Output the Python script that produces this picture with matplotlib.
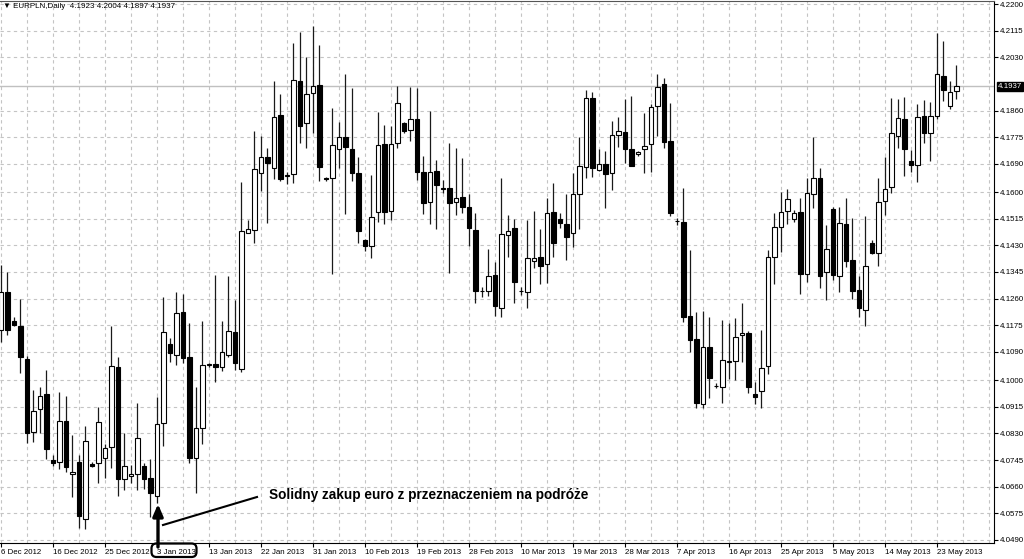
import numpy as np
from matplotlib import pyplot as plt
from matplotlib.patches import FancyBboxPatch
from matplotlib.lines import Line2D

# EURPLN daily candles, 6 Dec 2012 .. 27 May 2013 (Sunday bars included)
opens = [4.1160, 4.1282, 4.1189, 4.1173, 4.1068, 4.0835, 4.0908, 4.0956, 4.0746, 4.0739,
         4.0870, 4.0701, 4.0739, 4.0557, 4.0733, 4.0736, 4.0752, 4.0787, 4.1042, 4.0685,
         4.0695, 4.0701, 4.0727, 4.0688, 4.0631, 4.0864, 4.1116, 4.1081, 4.1218, 4.1074,
         4.0752, 4.0848, 4.1049, 4.1052, 4.1042, 4.1081, 4.1154, 4.1036, 4.1470, 4.1479,
         4.1661, 4.1712, 4.1677, 4.1846, 4.1652, 4.1658, 4.1955, 4.1821, 4.1916, 4.1942,
         4.1645, 4.1645, 4.1738, 4.1776, 4.1738, 4.1661, 4.1447, 4.1428, 4.1537, 4.1754,
         4.1540, 4.1757, 4.1821, 4.1798, 4.1833, 4.1664, 4.1569, 4.1667, 4.1613, 4.1613,
         4.1569, 4.1585, 4.1553, 4.1479, 4.1285, 4.1285, 4.1336, 4.1231, 4.1463, 4.1486,
         4.1285, 4.1282, 4.1380, 4.1393, 4.1371, 4.1537, 4.1514, 4.1498, 4.1470, 4.1594,
         4.1680, 4.1900, 4.1671, 4.1690, 4.1661, 4.1782, 4.1792, 4.1738, 4.1722, 4.1738,
         4.1754, 4.1875, 4.1945, 4.1763, 4.1508, 4.1505, 4.1205, 4.1132, 4.0924, 4.1106,
         4.0982, 4.0979, 4.1058, 4.1061, 4.1144, 4.1151, 4.0956, 4.0966, 4.1045, 4.1393,
         4.1489, 4.1540, 4.1514, 4.1537, 4.1339, 4.1594, 4.1645, 4.1345, 4.1546, 4.1333,
         4.1498, 4.1384, 4.1288, 4.1224, 4.1438, 4.1406, 4.1572, 4.1617, 4.1779, 4.1833,
         4.1699, 4.1687, 4.1843, 4.1789, 4.1843, 4.1971, 4.1875, 4.1923]
highs = [4.1368, 4.1345, 4.1202, 4.1259, 4.1077, 4.0969, 4.0979, 4.1033, 4.0762, 4.0963,
         4.0950, 4.0825, 4.0762, 4.0854, 4.0739, 4.0915, 4.0797, 4.1173, 4.1074, 4.0832,
         4.0730, 4.0927, 4.0736, 4.0749, 4.0947, 4.1266, 4.1135, 4.1282, 4.1275, 4.1183,
         4.0979, 4.1189, 4.1055, 4.1336, 4.1189, 4.1333, 4.1256, 4.1632, 4.1511, 4.1795,
         4.1779, 4.1741, 4.1955, 4.1913, 4.1664, 4.2076, 4.2111, 4.2031, 4.2130, 4.2069,
         4.1648, 4.1868, 4.1824, 4.1977, 4.1932, 4.1712, 4.1451, 4.1655, 4.1856, 4.1814,
         4.1811, 4.1939, 4.1824, 4.1935, 4.1932, 4.1715, 4.1859, 4.1703, 4.1639, 4.1757,
         4.1741, 4.1709, 4.1594, 4.1534, 4.1297, 4.1419, 4.1377, 4.1645, 4.1527, 4.1514,
         4.1297, 4.1511, 4.1540, 4.1483, 4.1581, 4.1629, 4.1534, 4.1594, 4.1661, 4.1776,
         4.1926, 4.1920, 4.1738, 4.1731, 4.1827, 4.1840, 4.1897, 4.1907, 4.1730, 4.1853,
         4.1881, 4.1977, 4.1964, 4.1884, 4.1518, 4.1613, 4.1416, 4.1218, 4.1221, 4.1202,
         4.0991, 4.1192, 4.1183, 4.1199, 4.1246, 4.1157, 4.0994, 4.1160, 4.1416, 4.1534,
         4.1601, 4.1610, 4.1543, 4.1581, 4.1645, 4.1776, 4.1677, 4.1495, 4.1553, 4.1553,
         4.1581, 4.1518, 4.1333, 4.1524, 4.1447, 4.1645, 4.1712, 4.1900, 4.1897, 4.1904,
         4.1735, 4.1881, 4.1894, 4.1888, 4.2108, 4.2082, 4.1955, 4.2004]
lows = [4.1122, 4.1144, 4.1173, 4.1023, 4.0800, 4.0803, 4.0832, 4.0749, 4.0727, 4.0717,
        4.0707, 4.0628, 4.0529, 4.0526, 4.0723, 4.0672, 4.0688, 4.0720, 4.0631, 4.0650,
        4.0672, 4.0650, 4.0653, 4.0564, 4.0608, 4.0790, 4.1058, 4.1049, 4.1055, 4.0736,
        4.0640, 4.0797, 4.1042, 4.0994, 4.1030, 4.1074, 4.1033, 4.1026, 4.1468, 4.1438,
        4.1604, 4.1502, 4.1642, 4.1636, 4.1626, 4.1629, 4.1757, 4.1741, 4.1789, 4.1636,
        4.1636, 4.1339, 4.1677, 4.1530, 4.1636, 4.1438, 4.1412, 4.1390, 4.1505, 4.1498,
        4.1511, 4.1741, 4.1789, 4.1763, 4.1639, 4.1530, 4.1498, 4.1483, 4.1597, 4.1342,
        4.1527, 4.1534, 4.1428, 4.1246, 4.1266, 4.1269, 4.1205, 4.1202, 4.1393, 4.1246,
        4.1272, 4.1231, 4.1358, 4.1307, 4.1310, 4.1393, 4.1486, 4.1384, 4.1425, 4.1483,
        4.1645, 4.1648, 4.1667, 4.1550, 4.1607, 4.1744, 4.1693, 4.1682, 4.1715, 4.1661,
        4.1664, 4.1779, 4.1741, 4.1524, 4.1495, 4.1186, 4.1090, 4.0911, 4.0911, 4.0943,
        4.0975, 4.0927, 4.1004, 4.1001, 4.1058, 4.0959, 4.0924, 4.0911, 4.1020, 4.1307,
        4.1409, 4.1498, 4.1505, 4.1275, 4.1313, 4.1550, 4.1294, 4.1256, 4.1320, 4.1282,
        4.1361, 4.1259, 4.1202, 4.1173, 4.1403, 4.1365, 4.1527, 4.1597, 4.1741, 4.1652,
        4.1664, 4.1632, 4.1757, 4.1699, 4.1833, 4.1891, 4.1865, 4.1897]
closes = [4.1282, 4.1160, 4.1176, 4.1074, 4.0832, 4.0902, 4.0950, 4.0781, 4.0736, 4.0870,
          4.0723, 4.0707, 4.0567, 4.0806, 4.0727, 4.0867, 4.0784, 4.1045, 4.0685, 4.0727,
          4.0701, 4.0816, 4.0685, 4.0640, 4.0860, 4.1154, 4.1087, 4.1215, 4.1071, 4.0752,
          4.0848, 4.1049, 4.1050, 4.1042, 4.1090, 4.1157, 4.1055, 4.1476, 4.1483, 4.1674,
          4.1712, 4.1693, 4.1840, 4.1642, 4.1655, 4.1958, 4.1811, 4.1913, 4.1939, 4.1680,
          4.1642, 4.1750, 4.1776, 4.1744, 4.1661, 4.1476, 4.1428, 4.1521, 4.1750, 4.1537,
          4.1754, 4.1884, 4.1795, 4.1833, 4.1664, 4.1565, 4.1664, 4.1623, 4.1610, 4.1565,
          4.1581, 4.1553, 4.1486, 4.1285, 4.1284, 4.1333, 4.1237, 4.1467, 4.1476, 4.1313,
          4.1284, 4.1390, 4.1390, 4.1365, 4.1534, 4.1438, 4.1502, 4.1457, 4.1594, 4.1684,
          4.1900, 4.1677, 4.1690, 4.1658, 4.1782, 4.1795, 4.1738, 4.1684, 4.1728, 4.1747,
          4.1872, 4.1935, 4.1760, 4.1534, 4.1507, 4.1202, 4.1128, 4.0927, 4.1106, 4.1007,
          4.0981, 4.1065, 4.1061, 4.1138, 4.1151, 4.0979, 4.0947, 4.1039, 4.1393, 4.1489,
          4.1537, 4.1578, 4.1534, 4.1339, 4.1597, 4.1645, 4.1333, 4.1419, 4.1336, 4.1502,
          4.1380, 4.1285, 4.1231, 4.1365, 4.1406, 4.1569, 4.1610, 4.1789, 4.1837, 4.1738,
          4.1687, 4.1840, 4.1789, 4.1843, 4.1977, 4.1926, 4.1920, 4.1937]

date_labels = ["6 Dec 2012", "16 Dec 2012", "25 Dec 2012", "3 Jan 2013", "13 Jan 2013",
               "22 Jan 2013", "31 Jan 2013", "10 Feb 2013", "19 Feb 2013", "28 Feb 2013",
               "10 Mar 2013", "19 Mar 2013", "28 Mar 2013", "7 Apr 2013", "16 Apr 2013",
               "25 Apr 2013", "5 May 2013", "14 May 2013", "23 May 2013"]
price_labels = ["4.2200", "4.2115", "4.2030", "4.1860", "4.1775", "4.1690", "4.1600",
                "4.1515", "4.1430", "4.1345", "4.1260", "4.1175", "4.1090", "4.1000",
                "4.0915", "4.0830", "4.0745", "4.0660", "4.0575", "4.0490"]
symbol = "EURPLN,Daily"
last_price = closes[-1]
note = "Solidny zakup euro z przeznaczeniem na podróże"

small_font = ["Liberation Sans", "DejaVu Sans"]
plt.rcParams["font.family"] = small_font

fig = plt.figure(figsize=(10.24, 5.59), dpi=100)
fig.patch.set_facecolor("white")
ax = fig.add_axes([0, 16 / 559, 994 / 1024, 542 / 559])

x = np.arange(len(opens))
o = np.array(opens)
h = np.array(highs)
l = np.array(lows)
c = np.array(closes)
up = c >= o

# wicks first, bodies on top
ax.vlines(x, l, h, color="#1a1a1a", linewidth=0.9, zorder=2)
body_bottom = np.minimum(o, c)
body_height = np.abs(c - o)
ax.bar(x[up], body_height[up], bottom=body_bottom[up], width=0.7,
       facecolor="white", edgecolor="black", linewidth=0.8, zorder=3)
ax.bar(x[~up], body_height[~up], bottom=body_bottom[~up], width=0.7,
       facecolor="black", edgecolor="black", linewidth=0.8, zorder=3)

ax.set_xlim(-0.15, 152.8)
ax.set_ylim(4.04804, 4.22096)

# axes / grid, MT4 look
ax.spines["left"].set_visible(False)
ax.spines["right"].set_color("black")
ax.spines["bottom"].set_color("black")
ax.spines["top"].set_color("#555555")

label_pos = list(range(0, 8 * len(date_labels), 8))
ax.set_xticks(label_pos)
ax.set_xticklabels(date_labels, ha="left", fontsize=5.7)
ax.set_xticks(list(range(0, 153, 4)), minor=True)
ax.tick_params(axis="x", which="major", direction="out", length=3, pad=1.5, width=0.8)
ax.tick_params(axis="x", which="minor", length=0)

ax.yaxis.tick_right()
ax.set_yticks([float(s) for s in price_labels])
ax.set_yticklabels(price_labels, fontsize=5.7)
ax.tick_params(axis="y", direction="out", length=3, pad=1.5, width=0.8)

ax.grid(True, which="both", axis="x", color="#c4c4c4", linestyle=(0, (3, 3)), linewidth=0.8, zorder=0)
ax.grid(True, which="major", axis="y", color="#c4c4c4", linestyle=(0, (3, 3)), linewidth=0.8, zorder=0)
ax.set_axisbelow(True)

# current price line and marker
ax.axhline(last_price, color="#c0c0c0", linewidth=1.0, zorder=1)
ax.text(1.004, last_price, "{:.4f}".format(last_price), transform=ax.get_yaxis_transform(),
        fontsize=5.7, color="white", va="center", ha="left",
        bbox=dict(boxstyle="square,pad=0.15", facecolor="black", edgecolor="black"))

# header
fig.text(3 / 1024, 1 - 7 / 559, "\u25bc " + symbol + "  {:.4f} {:.4f} {:.4f} {:.4f}".format(
    opens[-1], highs[-1], lows[-1], closes[-1]), fontsize=5.8, va="center", ha="left",
    family=small_font)

# annotation: arrow, line, text and the box round "3 Jan 2013"
px = fig.dpi_scale_trans
ax.annotate("", xy=(1.58, (559 - 504) / 100), xytext=(1.58, (559 - 547) / 100),
            xycoords=px, textcoords=px,
            arrowprops=dict(arrowstyle="-|>,head_width=0.3,head_length=0.7",
                            linewidth=2.4, color="black", shrinkA=0, shrinkB=0))
fig.add_artist(Line2D([1.63, 2.57], [(559 - 525) / 100, (559 - 497) / 100],
                      transform=px, color="black", linewidth=1.5))
fig.text(2.69 / 10.24, (559 - 495) / 559, note, fontsize=9.85, fontweight="bold",
         va="center", ha="left", family=["Liberation Sans", "DejaVu Sans"])
fig.add_artist(FancyBboxPatch((1.515, (559 - 557) / 100), 0.45, 0.135,
                              boxstyle="round,pad=0,rounding_size=0.05",
                              transform=px, facecolor="none", edgecolor="black", linewidth=1.6))

fig.savefig("out.png", dpi=100)
